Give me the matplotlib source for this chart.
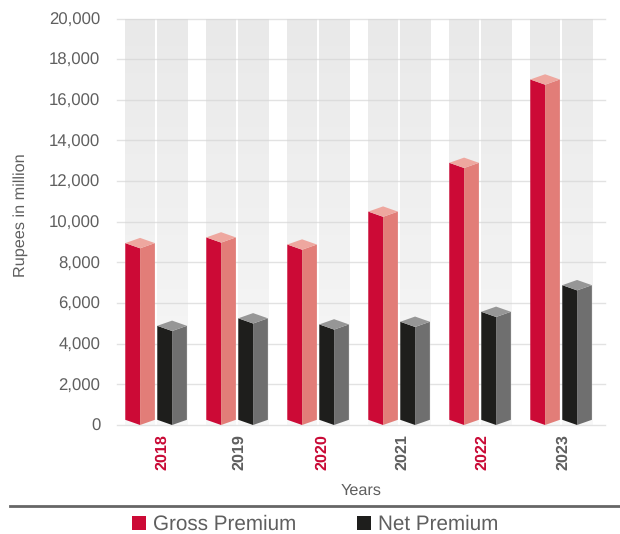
import numpy as np
import matplotlib
matplotlib.use("Agg")
import matplotlib.pyplot as plt
from matplotlib.colors import LinearSegmentedColormap
from matplotlib.lines import Line2D
from matplotlib.patches import Rectangle
from matplotlib.transforms import ScaledTranslation

plt.rcParams['font.family'] = ['Liberation Sans', 'DejaVu Sans']
plt.rcParams['text.hinting'] = 'no_hinting'

years = ['2018', '2019', '2020', '2021', '2022', '2023']
gross = [8950, 9230, 8880, 10500, 12900, 17000]
net = [4880, 5250, 4950, 5080, 5570, 6880]
yticks = list(range(0, 20001, 2000))
year_colors = ['#c90a36', '#5f5f5f', '#c90a36', '#5f5f5f', '#c90a36', '#5f5f5f']

W, H = 620, 534
fig = plt.figure(figsize=(W / 100, H / 100), dpi=100, facecolor='white')
L, R, B, T = 117, 605, 425, 18.5
ax = fig.add_axes([L / W, 1 - B / H, (R - L) / W, (B - T) / H])
STEP = 81.0
xlim = (-0.501, -0.501 + (R - L) / STEP)
for s in ax.spines.values():
    s.set_visible(False)

pxx = 1 / STEP
pxy = 20000 / (B - T)
cmap = LinearSegmentedColormap.from_list('bg', ['#e9e9e9', '#f8f8f8'])
grad = np.linspace(0, 1, 256).reshape(-1, 1)

for i in range(len(years)):
    for a, b in [(-32.5, -2.5), (-0.5, 30.5)]:
        ax.imshow(grad, cmap=cmap, aspect='auto', vmin=0, vmax=1, zorder=1,
                  extent=[i + a * pxx, i + b * pxx, 0, 20000])
ax.set_xlim(*xlim)
ax.set_ylim(0, 20000)

for y in yticks:
    ax.axhline(y, color='#d6d6d6', lw=1.0, alpha=0.7, zorder=2, clip_on=False)


def column(x, v, off, front, side, top):
    hw = 14.8 * pxx
    d = 5.2 * pxy
    cx = x + off * pxx
    kw = dict(zorder=3, lw=0, clip_on=False)
    ax.fill([cx - hw, cx, cx, cx - hw], [d, 0, v - d, v], color=front, **kw)
    ax.fill([cx, cx + hw, cx + hw, cx], [0, d, v, v - d], color=side, **kw)
    ax.fill([cx - hw, cx, cx + hw, cx], [v, v - d, v, v + d], color=top, **kw)


for i, (g, n) in enumerate(zip(gross, net)):
    column(i, g, -17.5, '#cc0a36', '#e27d78', '#eea79f')
    column(i, n, 14.5, '#1e1e1c', '#6f6f6f', '#969696')

ax.set_yticks(yticks)
ax.set_yticklabels([f'{y:,}' for y in yticks], fontsize=12.1, color='#5f5f5f')
ax.set_xticks(range(len(years)))
ax.set_xticklabels(years, rotation=90, fontsize=11.6, fontweight='bold')
ax.tick_params(axis='both', length=0)
ax.tick_params(axis='y', pad=12)
ax.tick_params(axis='x', pad=6.5)
label_nudge = [5, 1, 3, 2, 1, 1]
for lab, c, n in zip(ax.get_xticklabels(), year_colors, label_nudge):
    lab.set_color(c)
    lab.set_transform(lab.get_transform() + ScaledTranslation(n / 100, 0, fig.dpi_scale_trans))

fig.text(21 / W, 1 - 215 / H, 'Rupees in million', rotation=90, ha='center', va='center',
         fontsize=11.7, color='#5f5f5f')
fig.text(361 / W, 1 - 490.5 / H, 'Years', ha='center', va='center', fontsize=11.7, color='#5f5f5f')

fig.add_artist(Line2D([10 / W, 1], [1 - 506 / H] * 2, color='#666666', lw=2))
for x, c, t, tx in [(132, '#cc0a36', 'Gross Premium', 153), (357, '#1e1e1c', 'Net Premium', 378)]:
    fig.add_artist(Rectangle((x / W, 1 - 530 / H), 14 / W, 14 / H, transform=fig.transFigure,
                             facecolor=c, edgecolor='none'))
    fig.text(tx / W, 1 - 524 / H, t, ha='left', va='center', fontsize=14.9, color='#5f5f5f')

fig.savefig('out.png', dpi=100)
